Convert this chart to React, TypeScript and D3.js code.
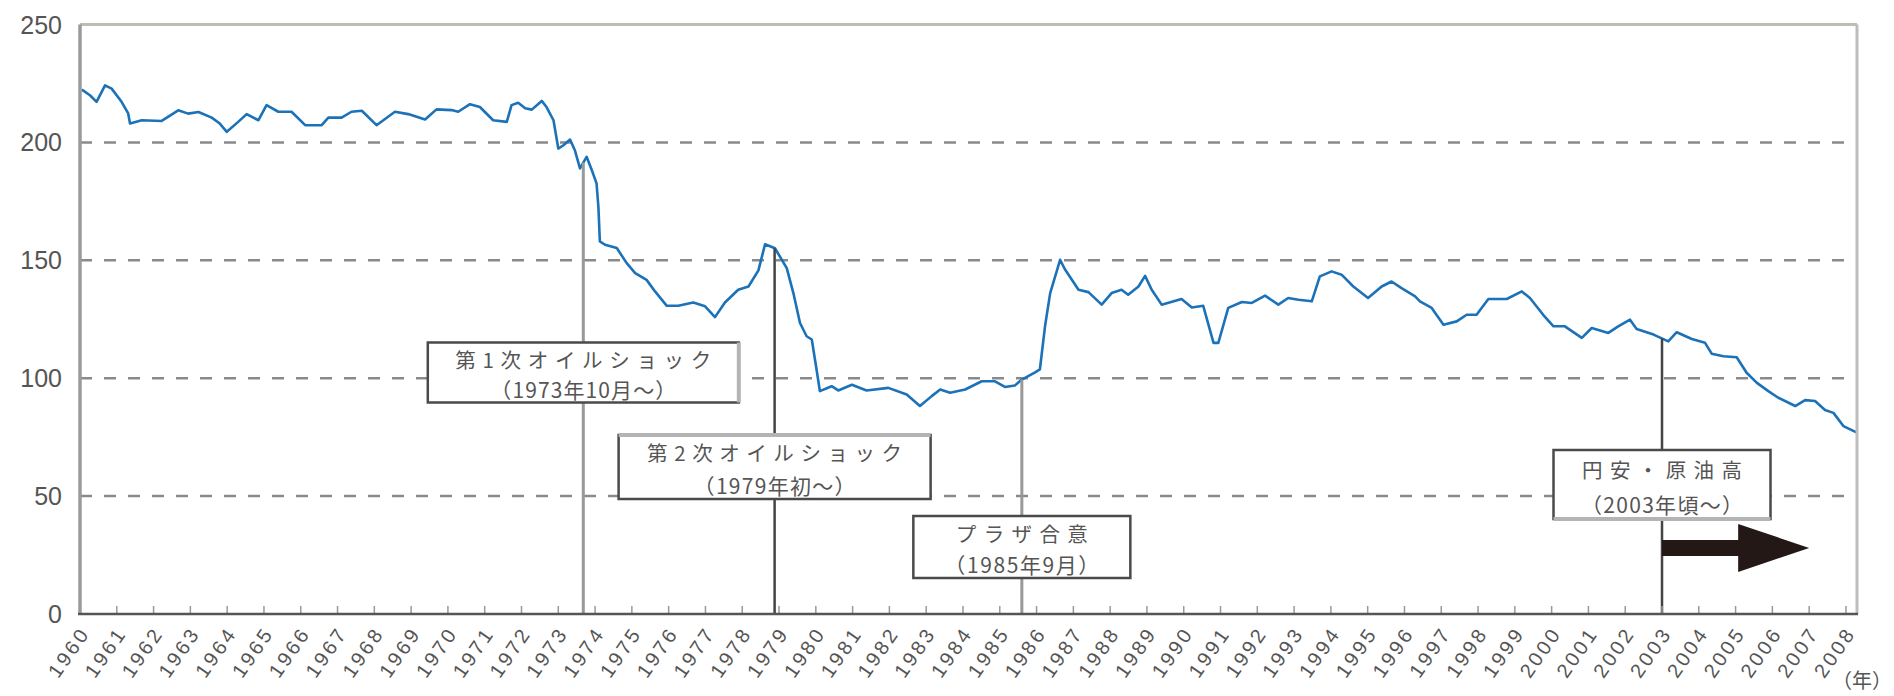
import { useEffect, useRef } from 'react';
import * as d3 from 'd3';

// decimal year of each reading
const years = [
  1960.05, 1960.27, 1960.45, 1960.68, 1960.86, 1961.13, 1961.31, 1961.36, 1961.68, 1962.22,
  1962.67, 1962.94, 1963.22, 1963.58, 1963.8, 1963.99, 1964.3, 1964.53, 1964.85, 1965.07,
  1965.39, 1965.75, 1966.12, 1966.57, 1966.75, 1967.11, 1967.38, 1967.66, 1968.06, 1968.56,
  1968.92, 1969.38, 1969.69, 1970.1, 1970.28, 1970.6, 1970.87, 1971.23, 1971.6, 1971.73,
  1971.91, 1972.1, 1972.28, 1972.55, 1972.68, 1972.87, 1973.0, 1973.14, 1973.32, 1973.45,
  1973.59, 1973.77, 1973.91, 1974.04, 1974.09, 1974.13, 1974.27, 1974.59, 1974.86, 1975.09,
  1975.4, 1975.63, 1975.95, 1976.26, 1976.67, 1976.99, 1977.26, 1977.53, 1977.89, 1978.17,
  1978.44, 1978.62, 1978.89, 1979.21, 1979.39, 1979.57, 1979.75, 1979.89, 1980.02, 1980.11,
  1980.43, 1980.61, 1980.98, 1981.38, 1981.97, 1982.47, 1982.83, 1983.15, 1983.38, 1983.65,
  1984.06, 1984.51, 1984.87, 1985.14, 1985.41, 1985.6, 1985.96, 1986.09, 1986.23, 1986.37,
  1986.64, 1986.77, 1987.14, 1987.41, 1987.77, 1988.04, 1988.31, 1988.49, 1988.77, 1988.95,
  1989.13, 1989.4, 1989.94, 1990.22, 1990.53, 1990.81, 1990.94, 1991.21, 1991.58, 1991.85,
  1992.21, 1992.57, 1992.84, 1993.12, 1993.48, 1993.7, 1994.02, 1994.29, 1994.61, 1995.01,
  1995.38, 1995.65, 1995.92, 1996.29, 1996.42, 1996.74, 1997.06, 1997.42, 1997.69, 1997.96,
  1998.28, 1998.78, 1999.19, 1999.41, 1999.77, 2000.05, 2000.36, 2000.82, 2001.09, 2001.54,
  2001.81, 2002.13, 2002.31, 2002.77, 2003.17, 2003.4, 2003.81, 2004.17, 2004.35, 2004.67,
  2005.03, 2005.3, 2005.58, 2005.89, 2006.16, 2006.62, 2006.89, 2007.16, 2007.43, 2007.66,
  2007.93, 2008.3,
];

const values = [
  222.4, 220, 217.2, 224.2, 222.8, 217.2, 212.3, 208, 209.4, 209.1,
  213.6, 212.2, 212.9, 210.5, 208, 204.5, 208.7, 212, 209.4, 215.8,
  213, 213, 207.3, 207.3, 210.5, 210.5, 213, 213.4, 207.3, 213,
  212, 209.7, 214, 213.7, 213, 216.2, 215, 209.4, 208.7, 215.8,
  216.8, 214.5, 213.9, 217.6, 215, 209.4, 197.4, 198.8, 201.2, 196.7,
  189, 193.9, 188.3, 182.6, 172.8, 158, 156.6, 155.2, 148.8, 144.6,
  141.7, 136.8, 130.7, 130.7, 132.1, 130.5, 125.9, 132.1, 137.5, 138.9,
  145.7, 156.8, 155.1, 146.7, 136.1, 123.4, 117.8, 116.4, 103.7, 94.5,
  96.6, 94.8, 97.2, 94.8, 95.9, 93.1, 88.2, 92.4, 95.2, 93.8,
  95.2, 98.7, 98.7, 96.3, 96.9, 99.4, 102.5, 103.7, 122, 136.1,
  150.2, 146.2, 137.5, 136.5, 131.2, 136.1, 137.5, 135.4, 138.9, 143.4,
  137.5, 131.2, 133.6, 130, 130.7, 115, 115, 129.8, 132.3, 131.9,
  135, 131.2, 134, 133.3, 132.6, 143.2, 145.3, 143.9, 138.9, 134,
  138.9, 141, 138.2, 134.7, 132.6, 129.8, 122.7, 124.1, 126.9, 126.9,
  133.6, 133.6, 136.8, 134, 126.9, 122, 122, 117.1, 121.3, 119.2,
  122, 124.8, 120.9, 118.5, 115.6, 119.5, 116.6, 115, 110.4, 109.3,
  108.9, 102.3, 98, 94.5, 91.7, 88.2, 90.7, 90.3, 86.5, 85.3,
  79.7, 76.9,
];

const yTicks = [0, 50, 100, 150, 200, 250];

const yearLabels = [
  1960, 1961, 1962, 1963, 1964, 1965, 1966, 1967, 1968, 1969,
  1970, 1971, 1972, 1973, 1974, 1975, 1976, 1977, 1978, 1979,
  1980, 1981, 1982, 1983, 1984, 1985, 1986, 1987, 1988, 1989,
  1990, 1991, 1992, 1993, 1994, 1995, 1996, 1997, 1998, 1999,
  2000, 2001, 2002, 2003, 2004, 2005, 2006, 2007, 2008,
];

const eventYears = [1973.68, 1978.88, 1985.6, 2003.0];
const eventTitles = ['第1次オイルショック', '第2次オイルショック', 'プラザ合意', '円安・原油高'];
const eventDates = ['（1973年10月～）', '（1979年初～）', '（1985年9月）', '（2003年頃～）'];

const W = 1894;
const H = 696;
const M = { left: 80, right: 37, top: 24.5, bottom: 82 };

// box layout per event (pixels); shade = which edge looks lighter in the scan
const boxes = [
  { top: 342.5, h: 60, w: 311, t1: 256, t2: 186, stroke: '#999', shade: 'right' },
  { top: 435, h: 64, w: 312, t1: 255, t2: 162, stroke: '#444', shade: 'top' },
  { top: 516, h: 62, w: 217, t1: 132, t2: 155, stroke: '#999', shade: '' },
  { top: 450, h: 69, w: 217, t1: 160, t2: 162, stroke: '#444', shade: 'bottom' },
];

const App = () => {
  const svgRef = useRef<SVGSVGElement>(null);

  useEffect(() => {
    if (!svgRef.current) return;
    const root = d3.select(svgRef.current);
    root.selectAll('*').remove();

    const x = d3.scaleLinear().domain([1960, 2008.3]).range([M.left, W - M.right]);
    const y = d3.scaleLinear().domain([0, 250]).range([H - M.bottom, M.top]);

    const pts = years.map((yr, i) => ({ yr, v: values[i] }));
    const bis = d3.bisector<{ yr: number; v: number }, number>(d => d.yr).left;
    const valueAt = (yr: number) => {
      const i = Math.max(1, Math.min(pts.length - 1, bis(pts, yr)));
      const a = pts[i - 1], b = pts[i];
      return a.v + (b.v - a.v) * (yr - a.yr) / (b.yr - a.yr);
    };

    const latin = "'Liberation Sans', Arial, sans-serif";
    const jp = "'Noto Sans CJK JP', 'Noto Sans', sans-serif";

    // dashed grid
    root.append('g')
      .selectAll('line')
      .data(yTicks.filter(t => t > 0 && t < 250))
      .enter().append('line')
      .attr('x1', M.left).attr('x2', W - M.right)
      .attr('y1', d => y(d)).attr('y2', d => y(d))
      .attr('stroke', '#8a8a8a')
      .attr('stroke-width', 2.5)
      .attr('stroke-dasharray', '12,12');

    // series line
    const line = d3.line<{ yr: number; v: number }>()
      .x(d => x(d.yr))
      .y(d => y(d.v));

    root.append('path')
      .datum(pts)
      .attr('fill', 'none')
      .attr('stroke', '#1b72b8')
      .attr('stroke-width', 2.6)
      .attr('stroke-linejoin', 'round')
      .attr('d', line);

    // event lines
    eventYears.forEach((yr, i) => {
      root.append('line')
        .attr('x1', x(yr)).attr('x2', x(yr))
        .attr('y1', y(valueAt(yr))).attr('y2', y(0))
        .attr('stroke', boxes[i].stroke)
        .attr('stroke-width', i % 2 === 0 ? 3 : 2.5);
    });

    // event boxes
    eventYears.forEach((yr, i) => {
      const b = boxes[i];
      const cx = x(yr);
      const x1 = cx - b.w / 2, x2 = cx + b.w / 2;
      const g = root.append('g');
      g.append('rect')
        .attr('x', x1).attr('y', b.top)
        .attr('width', b.w).attr('height', b.h)
        .attr('fill', '#fff')
        .attr('stroke', '#4a4a4a')
        .attr('stroke-width', 2.5);
      if (b.shade) {
        const e = b.shade === 'right' ? [x2, b.top, x2, b.top + b.h]
          : b.shade === 'top' ? [x1, b.top, x2, b.top]
          : [x1, b.top + b.h, x2, b.top + b.h];
        g.append('line')
          .attr('x1', e[0]).attr('y1', e[1]).attr('x2', e[2]).attr('y2', e[3])
          .attr('stroke', '#b4b4b4')
          .attr('stroke-width', 4);
      }
      g.append('text')
        .attr('x', cx).attr('y', b.top + b.h * 0.27)
        .attr('text-anchor', 'middle')
        .attr('dominant-baseline', 'central')
        .attr('textLength', b.t1)
        .attr('lengthAdjust', 'spacing')
        .attr('fill', '#555')
        .style('font-family', jp)
        .style('font-size', '20.5px')
        .text(eventTitles[i]);
      g.append('text')
        .attr('x', cx).attr('y', b.top + b.h * 0.78)
        .attr('text-anchor', 'middle')
        .attr('dominant-baseline', 'central')
        .attr('textLength', b.t2)
        .attr('lengthAdjust', 'spacing')
        .attr('fill', '#555')
        .style('font-family', jp)
        .style('font-size', '21px')
        .text(eventDates[i]);
    });

    // arrow after 2003
    const ay = y(28);
    const x0 = x(eventYears[3]);
    const xs = x(2005.07);
    const xt = x(2007.0);
    root.append('path')
      .attr('d', `M${x0},${ay - 8}L${xs},${ay - 8}L${xs},${ay - 24}L${xt},${ay}L${xs},${ay + 24}L${xs},${ay + 8}L${x0},${ay + 8}Z`)
      .attr('fill', '#231815');

    // frame
    root.append('line')
      .attr('x1', M.left).attr('x2', W - M.right)
      .attr('y1', M.top).attr('y2', M.top)
      .attr('stroke', '#bdbdb8').attr('stroke-width', 3);
    root.append('line')
      .attr('x1', W - M.right).attr('x2', W - M.right)
      .attr('y1', M.top).attr('y2', y(0))
      .attr('stroke', '#bdbdbd').attr('stroke-width', 3);
    root.append('line')
      .attr('x1', M.left).attr('x2', M.left)
      .attr('y1', M.top).attr('y2', y(0))
      .attr('stroke', '#9a9a9a').attr('stroke-width', 3.5);

    // x axis with inner ticks
    const xAxis = root.append('g');
    xAxis.selectAll('line.tick')
      .data(yearLabels.slice(1))
      .enter().append('line')
      .attr('class', 'tick')
      .attr('x1', d => x(d)).attr('x2', d => x(d))
      .attr('y1', y(0)).attr('y2', y(0) - 8)
      .attr('stroke', '#999').attr('stroke-width', 1.5);
    xAxis.append('line')
      .attr('x1', M.left - 2).attr('x2', W - M.right + 1)
      .attr('y1', y(0)).attr('y2', y(0))
      .attr('stroke', '#555').attr('stroke-width', 2.5);

    xAxis.selectAll('text')
      .data(yearLabels)
      .enter().append('text')
      .attr('transform', d => `translate(${x(d) + 5},${y(0) + 15}) rotate(-55)`)
      .attr('text-anchor', 'end')
      .attr('dominant-baseline', 'central')
      .attr('fill', '#555')
      .style('font-family', latin)
      .style('font-size', '20px')
      .style('letter-spacing', '3px')
      .text(d => String(d));

    root.append('text')
      .attr('x', W - 2).attr('y', H - 8)
      .attr('text-anchor', 'end')
      .attr('fill', '#555')
      .style('font-family', jp)
      .style('font-size', '20px')
      .text('（年）');

    // y labels
    root.append('g')
      .selectAll('text')
      .data(yTicks)
      .enter().append('text')
      .attr('x', 62)
      .attr('y', d => y(d))
      .attr('text-anchor', 'end')
      .attr('dominant-baseline', 'central')
      .attr('fill', '#555')
      .style('font-family', latin)
      .style('font-size', '25px')
      .text(d => String(d));
  }, []);

  return (
    <svg
      ref={svgRef}
      width={W}
      height={H}
      style={{ position: 'absolute', left: 0, top: 0, background: '#fff' }}
    />
  );
};

export default App;
